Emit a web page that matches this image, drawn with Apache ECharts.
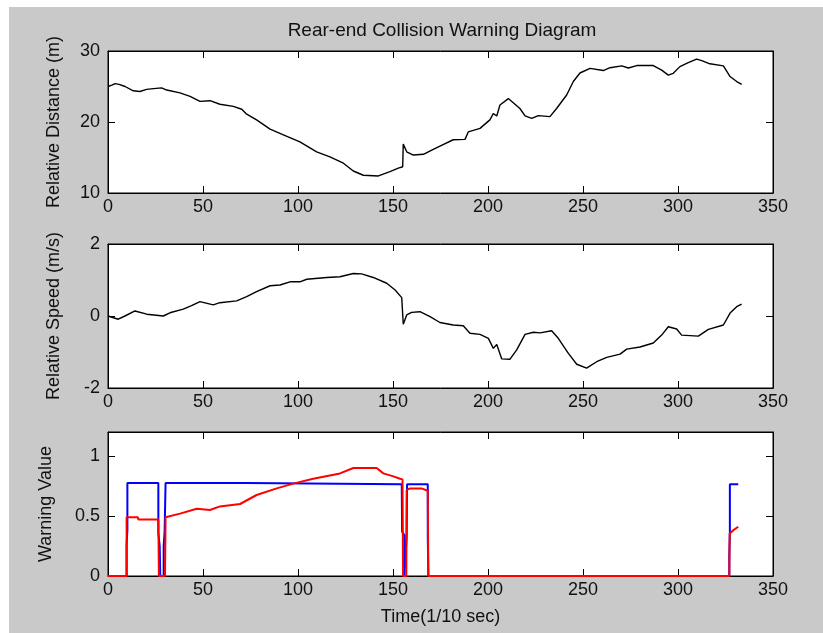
<!DOCTYPE html>
<html>
<head>
<meta charset="utf-8">
<script src="https://cdn.jsdelivr.net/npm/echarts@6/dist/echarts.min.js"></script>
<style>
html,body{margin:0;padding:0;background:#fff;}
#c{width:823px;height:633px;}
</style>
</head>
<body>
<div id="c"></div>
<script>
// ---- data (x in 1/10 sec) ----
var titleText = 'Rear-end Collision Warning Diagram';
var xTicks = [0, 50, 100, 150, 200, 250, 300, 350];
var distance = [[0,25.0],[2,25.2],[3.7,25.4],[5.8,25.3],[9,25.0],[13.3,24.4],[16.8,24.3],[20.3,24.6],[24,24.7],[28.2,24.8],[30.9,24.5],[37.9,24.1],[43.2,23.6],[48.4,22.9],[53.7,23.0],[58.9,22.5],[66,22.2],[70.4,21.8],[73,21.1],[78.2,20.3],[85.3,19.0],[92.3,18.2],[101,17.2],[109.8,15.8],[116.8,15.1],[123.9,14.2],[129.1,13.1],[134.4,12.5],[142.3,12.4],[148.4,13.0],[152.8,13.5],[155.1,13.7],[155.4,16.9],[157.2,15.8],[160.7,15.35],[166,15.45],[171.2,16.15],[174.7,16.6],[181.7,17.5],[187.9,17.55],[189.6,18.6],[195.8,19.1],[201,20.3],[202.8,21.2],[204.6,20.85],[206.3,22.4],[210.7,23.3],[216.8,21.9],[219.5,20.85],[223,20.5],[226.5,20.9],[232.6,20.75],[236.1,21.9],[241.4,23.8],[244.9,25.7],[248.4,26.9],[253.7,27.55],[260.7,27.25],[264.2,27.65],[270.4,27.9],[273.9,27.6],[278.3,27.95],[287,27.95],[291.4,27.3],[294.9,26.6],[297.5,26.85],[301,27.8],[305.4,28.35],[309.8,28.85],[312.5,28.65],[316.8,28.2],[323.9,27.9],[327.4,26.4],[330.9,25.7],[333.5,25.3]];
var speed = [[0,0.0],[5.4,-0.09],[8.9,0.0],[14.2,0.14],[20.4,0.05],[29.1,0.0],[32.6,0.09],[39.6,0.19],[44,0.29],[48.4,0.40],[55.4,0.31],[58.9,0.37],[67.7,0.42],[73,0.54],[78.2,0.68],[85.3,0.84],[90.5,0.86],[95.8,0.95],[101,0.95],[104.6,1.02],[115.1,1.07],[122.1,1.09],[129.1,1.18],[133.5,1.17],[139.6,1.07],[146.7,0.91],[151.1,0.72],[154.6,0.51],[155.4,-0.23],[157.2,0.03],[159.8,0.10],[164.2,0.12],[169.5,-0.02],[174.7,-0.18],[181.7,-0.25],[187,-0.27],[190.5,-0.48],[195.8,-0.51],[200.2,-0.62],[202.8,-0.9],[204.6,-0.79],[207.2,-1.19],[211.6,-1.2],[215.1,-0.94],[219.5,-0.51],[223.9,-0.45],[227.4,-0.47],[233.5,-0.41],[237,-0.62],[242.3,-1.04],[246.7,-1.34],[251.9,-1.45],[257.2,-1.27],[262.5,-1.15],[269.5,-1.06],[273,-0.92],[280,-0.86],[287,-0.75],[291.4,-0.53],[294.9,-0.30],[299.3,-0.36],[301.9,-0.53],[310.7,-0.56],[316,-0.37],[323.9,-0.25],[327.4,0.08],[330.9,0.26],[333.5,0.33]];
var warningBlue = [[0,0],[9.8,0],[9.8,0.26],[10.2,0.38],[10.2,0.775],[26.5,0.775],[26.5,0.36],[27.2,0.25],[27.5,0],[29.3,0],[29.3,0.25],[29.8,0.37],[30.3,0.775],[73,0.775],[73.5,0.765],[154.6,0.765],[154.8,0.37],[156,0.34],[156,0],[157,0],[157.2,0.33],[157.4,0.765],[168.3,0.765],[168.3,0.33],[168.6,0],[327,0],[327,0.17],[327.3,0.36],[327.3,0.765],[331.7,0.765]];
var warningRed = [[0,0],[9.8,0],[9.8,0.49],[15.7,0.49],[16,0.47],[26.5,0.47],[26.8,0],[30,0],[30.3,0.49],[37.9,0.52],[46.7,0.56],[53.7,0.55],[58.9,0.58],[69.5,0.60],[78.2,0.675],[88.8,0.73],[97.5,0.77],[108,0.81],[122.1,0.855],[129.1,0.90],[141.4,0.90],[144.9,0.855],[150.2,0.83],[153.7,0.81],[155,0.805],[155.3,0],[157,0],[157.2,0.717],[159,0.73],[165,0.73],[168.3,0.71],[168.6,0],[327,0],[327.2,0.355],[328,0.37],[329,0.38],[331.7,0.41]];
var yNames = ['Relative Distance (m)', 'Relative Speed (m/s)', 'Warning Value'];
var yMin = [10, -2, 0];
var yMax = [30, 2, 1.2];
var yInterval = [10, 2, 0.5];
var xName = 'Time(1/10 sec)';

// ---- layout ----
var FONT = 'Liberation Sans';
var tops = [51, 244, 432];
var heights = [142, 144, 144];
var nameGaps = [45, 45, 53];
var grids = [], xAxes = [], yAxes = [];
for (var i = 0; i < 3; i++) {
  grids.push({left: 108, right: 50, top: tops[i], height: heights[i], show: true,
    backgroundColor: '#fff', borderColor: '#000', borderWidth: 1});
}
function xa(i, pos) {
  return {type: 'value', gridIndex: i, position: pos, min: 0, max: 350, interval: 50,
    axisLine: {show: true, onZero: false, lineStyle: {color: '#000', width: 1}},
    axisTick: {show: true, inside: true, length: 7, lineStyle: {color: '#000'}},
    axisLabel: {show: pos === 'bottom', color: '#111', fontFamily: FONT, fontSize: 18, margin: 5},
    splitLine: {show: false},
    name: (pos === 'bottom' && i === 2) ? xName : '',
    nameLocation: 'middle', nameGap: 32,
    nameTextStyle: {color: '#111', fontFamily: FONT, fontSize: 18}};
}
function ya(i, pos) {
  return {type: 'value', gridIndex: i, position: pos, min: yMin[i], max: yMax[i], interval: yInterval[i],
    axisLine: {show: true, onZero: false, lineStyle: {color: '#000', width: 1}},
    axisTick: {show: true, inside: true, length: 7, lineStyle: {color: '#000'}},
    axisLabel: {show: pos === 'left', color: '#111', fontFamily: FONT, fontSize: 18, margin: 8, showMaxLabel: i !== 2},
    splitLine: {show: false},
    name: pos === 'left' ? yNames[i] : '',
    nameLocation: 'middle', nameGap: nameGaps[i], nameRotate: 90,
    nameTextStyle: {color: '#111', fontFamily: FONT, fontSize: 18}};
}
for (var j = 0; j < 3; j++) { xAxes.push(xa(j, 'bottom')); yAxes.push(ya(j, 'left')); }
for (var k = 0; k < 3; k++) { xAxes.push(xa(k, 'top')); yAxes.push(ya(k, 'right')); }

function line(data, gi, color, w) {
  return {type: 'line', xAxisIndex: gi, yAxisIndex: gi, data: data, showSymbol: false,
    symbol: 'none', animation: false, lineStyle: {color: color, width: w}, z: 3};
}

var chart = echarts.init(document.getElementById('c'), null, {renderer: 'canvas'});
chart.setOption({
  animation: false,
  backgroundColor: '#fff',
  graphic: [{type: 'rect', z: -100, silent: true, shape: {x: 9, y: 7, width: 814, height: 626}, style: {fill: '#c9c9c9'}}],
  title: {text: titleText, left: 437, textAlign: 'center', top: 16, textStyle: {color: '#111', fontFamily: FONT, fontSize: 19, fontWeight: 'normal'}},
  grid: grids,
  xAxis: xAxes,
  yAxis: yAxes,
  series: [
    line(distance, 0, '#000', 1.4),
    line(speed, 1, '#000', 1.4),
    line(warningBlue, 2, '#0000ff', 2),
    line(warningRed, 2, '#ff0000', 2)
  ]
});
</script>
</body>
</html>
